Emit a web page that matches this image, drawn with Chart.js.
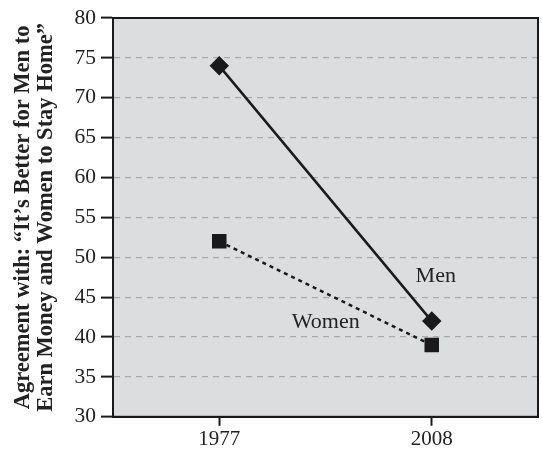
<!DOCTYPE html>
<html>
<head>
<meta charset="utf-8">
<script src="https://cdn.jsdelivr.net/npm/chart.js@4"></script>
<style>
  html, body { margin: 0; padding: 0; background: #fff; }
  #wrap { width: 542px; height: 453px; }
</style>
</head>
<body>
<div id="wrap"><canvas id="agree"></canvas></div>
<script>
// survey years
const years = ['1977', '2008'];
// percent agreeing, by sex
const men = [74, 42];
const women = [52, 39];
// y axis range / step
const yMin = 30, yMax = 80, yStep = 5;

const serif = "'Liberation Serif', 'DejaVu Serif', serif";

// gray plot area with a black frame, plus the inline series labels
const plotBox = {
  id: 'plotBox',
  beforeDraw(chart) {
    const { ctx, chartArea: a } = chart;
    ctx.save();
    ctx.fillStyle = '#dcdddf';
    ctx.fillRect(a.left, a.top, a.right - a.left, a.bottom - a.top);
    ctx.restore();
  },
  afterDraw(chart) {
    const { ctx, chartArea: a, scales } = chart;
    ctx.save();
    ctx.strokeStyle = '#1a1a1a';
    ctx.lineWidth = 2;
    ctx.strokeRect(a.left, a.top, a.right - a.left, a.bottom - a.top);
    // labels next to the lines
    ctx.fillStyle = '#222';
    ctx.font = '22px ' + serif;
    ctx.textAlign = 'center';
    ctx.textBaseline = 'middle';
    const x2 = scales.x.getPixelForValue(1);
    ctx.fillText('Men', x2 + 4, scales.y.getPixelForValue(47.6));
    ctx.fillText('Women', x2 - 106, scales.y.getPixelForValue(41.8));
    ctx.restore();
  }
};

new Chart(document.getElementById('agree'), {
  type: 'line',
  data: {
    labels: years,
    datasets: [
      {
        label: 'Men',
        data: men,
        borderColor: '#1a1a1a',
        backgroundColor: '#1a1a1a',
        borderWidth: 2.5,
        pointStyle: 'rectRot',
        pointRadius: 8,
        pointHoverRadius: 8
      },
      {
        label: 'Women',
        data: women,
        borderColor: '#1a1a1a',
        backgroundColor: '#1a1a1a',
        borderWidth: 2.5,
        borderDash: [4, 4],
        pointStyle: 'rect',
        pointRadius: 8.5,
        pointHoverRadius: 8.5
      }
    ]
  },
  options: {
    responsive: true,
    maintainAspectRatio: false,
    animation: false,
    layout: { autoPadding: false, padding: { top: 18, right: 4, left: 0, bottom: 0 } },
    plugins: {
      legend: { display: false },
      tooltip: { enabled: false }
    },
    scales: {
      x: {
        offset: true,
        grid: {
          drawOnChartArea: false,
          drawTicks: true,
          tickLength: 9,
          tickColor: '#1a1a1a',
          tickWidth: 2
        },
        border: { color: '#1a1a1a', width: 2 },
        ticks: { color: '#222', font: { family: serif, size: 21 }, padding: 1 }
      },
      y: {
        min: yMin,
        max: yMax,
        afterFit(s) { s.width = 113; },
        grid: {
          color: '#a9aaac',
          lineWidth: 1.2,
          tickLength: 12,
          tickColor: '#1a1a1a',
          tickWidth: 2,
          tickBorderDash: []
        },
        border: { color: '#1a1a1a', width: 2, dash: [6, 5] },
        ticks: {
          stepSize: yStep,
          color: '#222',
          font: { family: serif, size: 21.5 },
          padding: 5
        },
        title: {
          display: true,
          text: ['Agreement with: \u201cIt\u2019s Better for Men to',
                 'Earn Money and Women to Stay Home\u201d'],
          color: '#222',
          font: { family: serif, size: 22.5, weight: 'bold', lineHeight: 1.02 },
          padding: { top: 12, bottom: 0 }
        }
      }
    }
  },
  plugins: [plotBox]
});
</script>
</body>
</html>
